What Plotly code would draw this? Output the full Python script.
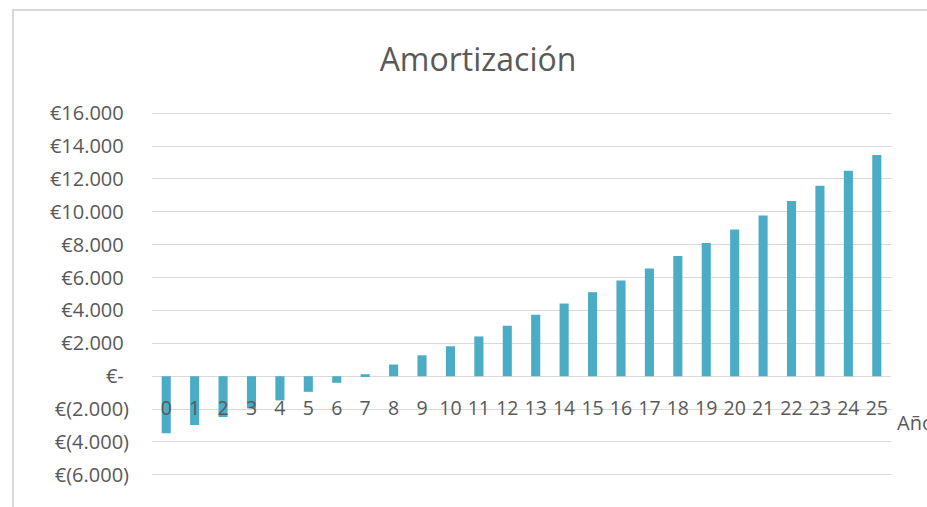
import plotly.graph_objects as go

# ---- data ----
years = list(range(26))
amortizacion = [-3470, -2970, -2480, -1960, -1470, -950, -400, 120, 710, 1270,
                1820, 2420, 3070, 3740, 4420, 5110, 5820, 6550, 7310, 8100,
                8930, 9780, 10650, 11580, 12500, 13450]
y_ticks = list(range(-6000, 16001, 2000))


def fmt_eur(v):
    if v == 0:
        return "€-\u2008"
    s = f"{abs(v):,}".replace(",", ".")
    return f"€({s})" if v < 0 else f"€{s}\u2008"


y_ticktext = [fmt_eur(v) for v in y_ticks]

W, H = 927, 507
L, R, T, B = 152, 36, 111, 30
pw, ph = W - L - R, H - T - B
ymin, ymax = -6130, 16130


def px_x(x):
    return (x - L) / pw


def px_y(y):
    return (H - B - y) / ph


grey = "#595959"
grid = "#d9d9d9"
font = "Open Sans"

fig = go.Figure(go.Bar(
    x=years, y=amortizacion,
    marker=dict(color="#4bacc6", line=dict(width=0)),
    width=0.32,
))

fig.update_layout(
    width=W, height=H,
    margin=dict(l=L, r=R, t=T, b=B),
    paper_bgcolor="white", plot_bgcolor="white",
    showlegend=False,
    font=dict(family=font, color=grey),
    title=dict(text="Amortización", x=px_x(478), xref="paper",
               xanchor="center", y=(H - 60) / H, yanchor="middle",
               font=dict(family=font, size=32, color=grey)),
    xaxis=dict(
        range=[-0.5, 25.5], tickmode="array", tickvals=years,
        ticktext=[str(v) for v in years],
        anchor="free", position=-ymin / (ymax - ymin),
        showgrid=False, showline=False, zeroline=False, ticks="",
        ticklabelstandoff=18,
        tickfont=dict(family=font, size=19.5, color=grey),
    ),
    yaxis=dict(
        range=[ymin, ymax], tickmode="array", tickvals=y_ticks,
        ticktext=y_ticktext,
        showgrid=True, gridcolor=grid, gridwidth=1,
        zeroline=True, zerolinecolor=grid, zerolinewidth=1,
        showline=False, ticks="", ticklabelstandoff=22,
        tickfont=dict(family=font, size=20, color=grey),
    ),
    shapes=[dict(
        type="rect", xref="paper", yref="paper", layer="below",
        x0=px_x(13), x1=px_x(W + 20),
        y0=px_y(H + 20), y1=px_y(10),
        line=dict(color=grid, width=2), fillcolor="rgba(0,0,0,0)",
    )],
    annotations=[dict(
        text="Años", xref="paper", yref="paper",
        x=px_x(895), xanchor="left",
        y=px_y(422), yanchor="middle",
        showarrow=False, font=dict(family=font, size=20, color=grey),
    )],
)

fig.write_html(
    "out.html",
    config={"displayModeBar": False},
    post_script="document.body.style.margin='0';document.body.style.overflow='hidden';",
)
